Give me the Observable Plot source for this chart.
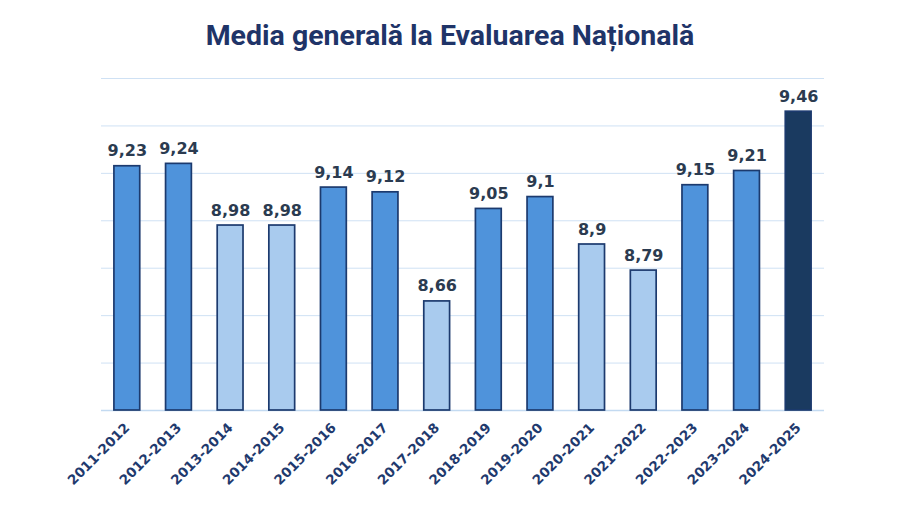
<!DOCTYPE html>
<html>
<head>
<meta charset="utf-8">
<script src="https://cdn.jsdelivr.net/npm/d3@7"></script>
<script src="https://cdn.jsdelivr.net/npm/@observablehq/plot@0.6"></script>
<style>
  html, body { margin: 0; padding: 0; background: #fff; }
  #title { height: 60px; line-height: 72px; text-align: center; font-family: Roboto, sans-serif; font-weight: 700; font-size: 28.5px; color: #1F3468; white-space: nowrap; }
  #chart svg { display: block; }
</style>
</head>
<body>
<div id="title">Media generală la Evaluarea Națională</div>
<div id="chart"></div>
<script>
const years = ["2011-2012","2012-2013","2013-2014","2014-2015","2015-2016","2016-2017","2017-2018","2018-2019","2019-2020","2020-2021","2021-2022","2022-2023","2023-2024","2024-2025"];
const values = [9.23, 9.24, 8.98, 8.98, 9.14, 9.12, 8.66, 9.05, 9.1, 8.9, 8.79, 9.15, 9.21, 9.46];
const tones = ["mid","mid","light","light","mid","mid","light","mid","mid","light","light","mid","mid","dark"];
const yDomain = [8.2, 9.6];
const yTicks = [8.2, 8.4, 8.6, 8.8, 9.0, 9.2, 9.4, 9.6];

const data = years.map((y, i) => ({year: y, value: values[i], tone: tones[i]}));

const chart = Plot.plot({
  width: 900,
  height: 446,
  marginLeft: 101,
  marginRight: 76,
  marginTop: 18,
  marginBottom: 96,
  x: {type: "band", domain: years, paddingInner: 0.5, paddingOuter: 0.25, round: false, label: null},
  y: {domain: yDomain, axis: null},
  color: {domain: ["light","mid","dark"], range: ["#A9CBEE","#4F93DB","#1A3A60"]},
  marks: [
    Plot.ruleY(yTicks, {stroke: "#CFE1F4", strokeWidth: 1}),
    Plot.ruleY([yDomain[0]], {stroke: "#C3DAF1", strokeWidth: 1.5}),
    Plot.barY(data, {x: "year", y1: yDomain[0], y2: "value", fill: "tone", stroke: "#1C3A6E", strokeWidth: 1.7}),
    Plot.text(data, {x: "year", y: "value", text: d => String(d.value).replace(".", ","), dy: -10, lineAnchor: "bottom", fontFamily: "DejaVu Sans", fontWeight: "bold", fontSize: 16, fill: "#2B3B50"}),
    Plot.axisX({tickRotate: -45, tickSize: 0, tickPadding: 15, fontSize: 13.5, fontWeight: "bold", fontFamily: "DejaVu Sans", fill: "#1F3A6E", label: null})
  ]
});
document.getElementById("chart").appendChild(chart);
</script>
</body>
</html>
